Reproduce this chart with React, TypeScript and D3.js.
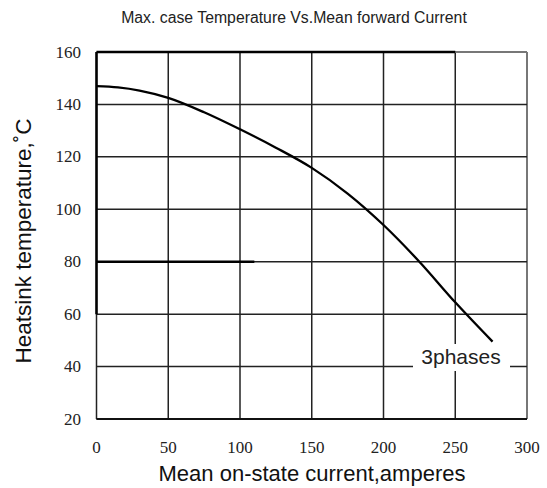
import React from "react";
import * as d3 from "d3";

const current = [0, 15, 30, 50, 75, 100, 125, 150, 175, 200, 225, 250, 276];
const temperature = [147, 146.5, 145.3, 142.5, 137, 130.5, 123.5, 115.8, 106, 94, 80, 64.5, 49.5];
const xTicks = [0, 50, 100, 150, 200, 250, 300];
const yTicks = [20, 40, 60, 80, 100, 120, 140, 160];
const title = "Max. case Temperature Vs.Mean forward Current";
const xLabel = "Mean on-state current,amperes";
const yLabel = "Heatsink temperature,\u02DAC";
const seriesLabel = "3phases";

export default function App() {
  const W = 547, H = 488;
  const left = 96.5, right = 527, top = 52, bottom = 419;
  const x = d3.scaleLinear().domain([0, 300]).range([left, right]);
  const y = d3.scaleLinear().domain([20, 160]).range([bottom, top]);
  const line = d3.line<number>()
    .x((_, i) => x(current[i]))
    .y((d) => y(d))
    .curve(d3.curveMonotoneX);
  const serif = "'Liberation Serif', 'DejaVu Serif', serif";
  const sans = "'Liberation Sans', Arial, sans-serif";
  const gridColor = "#222";
  return (
    <svg width={W} height={H} style={{ position: "absolute", left: 0, top: 0, background: "#fff" }}>
      <rect width={W} height={H} fill="#fff" />
      <text x={294} y={23} textAnchor="middle" fontFamily={sans} fontSize={15.8} fill="#222">{title}</text>
      {xTicks.map((t) => (
        <line key={"vx" + t} x1={x(t)} x2={x(t)} y1={top} y2={bottom}
          stroke={t === 300 ? "#777" : gridColor} strokeWidth={t === 300 ? 2 : 1.5} />
      ))}
      {yTicks.map((t) => (
        <line key={"hy" + t} x1={left} x2={right} y1={y(t)} y2={y(t)}
          stroke={t === 160 ? "#777" : gridColor} strokeWidth={t === 160 ? 2 : 1.5} />
      ))}
      <line x1={left} x2={x(250)} y1={y(160)} y2={y(160)} stroke="#000" strokeWidth={2.5} />
      <line x1={left} x2={left} y1={y(160)} y2={y(60)} stroke="#000" strokeWidth={2.5} />
      <line x1={left} x2={x(110)} y1={y(80)} y2={y(80)} stroke="#000" strokeWidth={2.5} />
      <line x1={left} x2={right} y1={bottom} y2={bottom} stroke="#111" strokeWidth={2} />
      <path d={line(temperature) || ""} fill="none" stroke="#000" strokeWidth={2.3} />
      <rect x={413} y={344} width={97} height={27} fill="#fff" />
      <text x={461} y={364} textAnchor="middle" fontFamily={sans} fontSize={21} fill="#222">{seriesLabel}</text>
      {yTicks.map((t) => (
        <text key={"yl" + t} x={81} y={y(t) + 5.5} textAnchor="end" fontFamily={serif} fontSize={17} fill="#222">{t}</text>
      ))}
      {xTicks.map((t) => (
        <text key={"xl" + t} x={x(t)} y={453} textAnchor="middle" fontFamily={serif} fontSize={17} fill="#222">{t}</text>
      ))}
      <text x={312} y={481} textAnchor="middle" fontFamily={sans} fontSize={22} fill="#111">{xLabel}</text>
      <text transform={`translate(31,241) rotate(-90)`} textAnchor="middle" fontFamily={sans} fontSize={22.5} fill="#111">{yLabel}</text>
    </svg>
  );
}
